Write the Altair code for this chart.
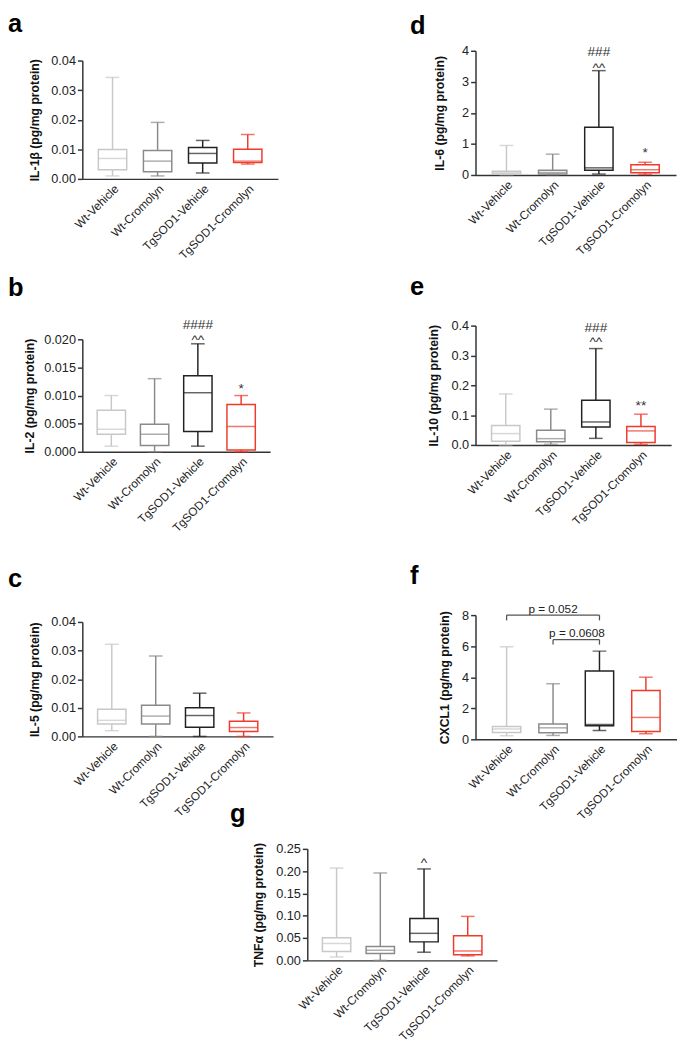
import altair as alt
import pandas as pd

groups = ["Wt-Vehicle", "Wt-Cromolyn", "TgSOD1-Vehicle", "TgSOD1-Cromolyn"]
group_colors = ["#c8c8c8", "#8a8a8a", "#222222", "#ee3b2b"]

# Panel a: IL-1beta
il1b_min = [0.0010, 0.0010, 0.0020, 0.0050]
il1b_q1 = [0.0031, 0.0024, 0.0054, 0.0055]
il1b_med = [0.0069, 0.0060, 0.0086, 0.0060]
il1b_q3 = [0.0099, 0.0096, 0.0106, 0.0100]
il1b_max = [0.0343, 0.0191, 0.0130, 0.0150]

# Panel b: IL-2
il2_min = [0.0010, 0.0000, 0.0010, 0.0000]
il2_q1 = [0.0031, 0.0011, 0.0036, 0.0003]
il2_med = [0.0040, 0.0031, 0.0105, 0.0045]
il2_q3 = [0.0074, 0.0049, 0.0135, 0.0084]
il2_max = [0.0100, 0.0130, 0.0192, 0.0100]
il2_ann_group = ["TgSOD1-Vehicle", "TgSOD1-Vehicle", "TgSOD1-Cromolyn"]
il2_ann_y = [0.0226, 0.0199, 0.0112]
il2_ann_text = ["####", "^^", "*"]

# Panel c: IL-5
il5_min = [0.0020, 0.0000, 0.0000, 0.0000]
il5_q1 = [0.0043, 0.0043, 0.0032, 0.0017]
il5_med = [0.0056, 0.0071, 0.0073, 0.0031]
il5_q3 = [0.0095, 0.0109, 0.0100, 0.0053]
il5_max = [0.0322, 0.0281, 0.0151, 0.0082]

# Panel d: IL-6
il6_min = [0.01, 0.01, 0.03, 0.02]
il6_q1 = [0.03, 0.03, 0.15, 0.07]
il6_med = [0.07, 0.08, 0.23, 0.17]
il6_q3 = [0.12, 0.15, 1.54, 0.33]
il6_max = [0.95, 0.67, 3.36, 0.41]
il6_ann_group = ["TgSOD1-Vehicle", "TgSOD1-Vehicle", "TgSOD1-Cromolyn"]
il6_ann_y = [3.95, 3.45, 0.72]
il6_ann_text = ["###", "^^", "*"]

# Panel e: IL-10
il10_min = [0.000, 0.002, 0.022, 0.002]
il10_q1 = [0.012, 0.011, 0.060, 0.008]
il10_med = [0.038, 0.021, 0.077, 0.047]
il10_q3 = [0.065, 0.049, 0.150, 0.062]
il10_max = [0.171, 0.120, 0.323, 0.103]
il10_ann_group = ["TgSOD1-Vehicle", "TgSOD1-Vehicle", "TgSOD1-Cromolyn"]
il10_ann_y = [0.393, 0.345, 0.130]
il10_ann_text = ["###", "^^", "**"]

# Panel f: CXCL1
cxcl1_min = [0.23, 0.25, 0.57, 0.36]
cxcl1_q1 = [0.44, 0.42, 0.88, 0.50]
cxcl1_med = [0.67, 0.74, 0.95, 1.41]
cxcl1_q3 = [0.82, 0.99, 4.40, 3.14]
cxcl1_max = [5.96, 3.58, 5.68, 4.00]
cxcl1_br_from = ["Wt-Vehicle", "Wt-Cromolyn"]
cxcl1_br_to = ["TgSOD1-Vehicle", "TgSOD1-Vehicle"]
cxcl1_br_y = [8.0, 6.42]
cxcl1_br_drop = [7.66, 6.10]
cxcl1_br_text = ["p = 0.052", "p = 0.0608"]
cxcl1_br_text_y = [8.38, 6.85]

# Panel g: TNF-alpha
tnf_min = [0.0077, 0.0000, 0.0183, 0.0100]
tnf_q1 = [0.0197, 0.0155, 0.0415, 0.0127]
tnf_med = [0.0380, 0.0225, 0.0606, 0.0211]
tnf_q3 = [0.0507, 0.0310, 0.0937, 0.0550]
tnf_max = [0.2070, 0.1960, 0.2050, 0.0986]
tnf_ann_group = ["TgSOD1-Vehicle"]
tnf_ann_y = [0.218]
tnf_ann_text = ["^"]

LABEL_FONT = "Liberation Sans"
AX = "#333333"
XSCALE = alt.Scale(type="point", padding=0.67, domain=groups)


def xch(field, axis=None):
    if axis is None:
        return alt.X(field, sort=groups, scale=XSCALE)
    return alt.X(field, sort=groups, scale=XSCALE, axis=axis)


def panel(letter, ytitle, mins, q1s, meds, q3s, maxs, domain, ticks, fmt,
          w, h, letter_dx, letter_offset, title_pad, ann=None, brackets=None):
    df = pd.DataFrame({"group": groups, "lo": mins, "q1": q1s, "med": meds,
                       "q3": q3s, "hi": maxs})
    xaxis = alt.Axis(title=None, labelAngle=-45, ticks=False,
                     labelFontSize=12, labelFont=LABEL_FONT,
                     labelColor="#222", labelPadding=4,
                     domainColor=AX, domainWidth=1.5)
    yscale = alt.Scale(domain=domain, nice=False, zero=False)
    yaxis = alt.Axis(values=ticks, format=fmt, title=ytitle,
                     titleFontWeight="bold", titleFontSize=12.5,
                     titleFont=LABEL_FONT, titleColor="#111",
                     labelFontSize=13, labelFont=LABEL_FONT, labelColor="#222",
                     labelOverlap=False, labelFlush=False,
                     tickSize=5, tickWidth=1.5, tickColor=AX,
                     domainColor=AX, domainWidth=1.5, labelPadding=2,
                     titlePadding=title_pad, grid=False)

    def ych(field):
        return alt.Y(field, scale=yscale, axis=yaxis)

    cscale = alt.Scale(domain=groups, range=group_colors)
    colr = alt.Color("group:N", scale=cscale, legend=None)
    base = alt.Chart(df).encode(x=xch("group:N", xaxis))
    whisk = base.mark_rule(strokeWidth=1.5).encode(
        y=ych("lo:Q"), y2="hi:Q", color=colr)
    box = base.mark_bar(width=29, fill="white", strokeWidth=1.5).encode(
        y=ych("q1:Q"), y2="q3:Q",
        stroke=alt.Stroke("group:N", scale=cscale, legend=None))
    med = base.mark_tick(size=29, thickness=1.5).encode(y=ych("med:Q"), color=colr)
    caplo = base.mark_tick(size=14, thickness=1.5).encode(y=ych("lo:Q"), color=colr)
    caphi = base.mark_tick(size=14, thickness=1.5).encode(y=ych("hi:Q"), color=colr)
    layers = [whisk, box, med, caplo, caphi]
    if ann is not None:
        adf = pd.DataFrame({"group": ann[0], "y": ann[1], "t": ann[2]})
        layers.append(alt.Chart(adf).mark_text(
            fontSize=14, font=LABEL_FONT, color="#333", baseline="middle").encode(
            x=xch("group:N", xaxis), y=ych("y:Q"), text="t:N"))
    if brackets is not None:
        bdf = pd.DataFrame({"a": brackets[0], "b": brackets[1], "y": brackets[2],
                            "d": brackets[3]})
        bc = "#555555"
        layers.append(alt.Chart(bdf).mark_rule(color=bc, strokeWidth=1.3).encode(
            x=xch("a:N", xaxis), x2="b:N", y=ych("y:Q")))
        layers.append(alt.Chart(bdf).mark_rule(color=bc, strokeWidth=1.3).encode(
            x=xch("a:N", xaxis), y=ych("y:Q"), y2="d:Q"))
        layers.append(alt.Chart(bdf).mark_rule(color=bc, strokeWidth=1.3).encode(
            x=xch("b:N", xaxis), y=ych("y:Q"), y2="d:Q"))
        tdf = pd.DataFrame({"g": ["Wt-Cromolyn", "TgSOD1-Vehicle"],
                            "ty": brackets[5], "t": brackets[4]})
        layers.append(alt.Chart(tdf.iloc[[0]]).mark_text(
            fontSize=12, font=LABEL_FONT, color="#222").encode(
            x=xch("g:N", xaxis), y=ych("ty:Q"), text="t:N"))
        layers.append(alt.Chart(tdf.iloc[[1]]).mark_text(
            fontSize=12, font=LABEL_FONT, color="#222", dx=-23).encode(
            x=xch("g:N", xaxis), y=ych("ty:Q"), text="t:N"))
    return alt.layer(*layers).properties(
        width=w, height=h,
        title=alt.TitleParams(letter, anchor="start", frame="group", dx=letter_dx,
                              offset=letter_offset, fontSize=26, font=LABEL_FONT,
                              fontWeight="bold", color="#000", baseline="bottom"))


def spacer():
    return alt.Chart(pd.DataFrame({"v": [0]})).mark_point(size=1, opacity=0).encode(
        x=alt.X("v:Q", axis=None), y=alt.Y("v:Q", axis=None)
    ).properties(width=1, height=1)


pa = panel("a", "IL-1β (pg/mg protein)", il1b_min, il1b_q1, il1b_med, il1b_q3, il1b_max,
           [0, 0.04], [0, 0.01, 0.02, 0.03, 0.04], ".2f", 200, 121, -76, -8, 9)
pb = panel("b", "IL-2 (pg/mg protein)", il2_min, il2_q1, il2_med, il2_q3, il2_max,
           [0, 0.02], [0, 0.005, 0.01, 0.015, 0.02], ".3f", 192, 115, -76, -9, 7,
           ann=(il2_ann_group, il2_ann_y, il2_ann_text))
pc = panel("c", "IL-5 (pg/mg protein)", il5_min, il5_q1, il5_med, il5_q3, il5_max,
           [0, 0.04], [0, 0.01, 0.02, 0.03, 0.04], ".2f", 195, 117, -76, -1, 9)
pd_ = panel("d", "IL-6 (pg/mg protein)", il6_min, il6_q1, il6_med, il6_q3, il6_max,
            [0, 4], [0, 1, 2, 3, 4], "d", 205, 127, -67, -20, 15,
            ann=(il6_ann_group, il6_ann_y, il6_ann_text))
pe = panel("e", "IL-10 (pg/mg protein)", il10_min, il10_q1, il10_med, il10_q3, il10_max,
           [0, 0.4], [0, 0.1, 0.2, 0.3, 0.4], ".1f", 200, 122, -67, -6, 11,
           ann=(il10_ann_group, il10_ann_y, il10_ann_text))
pf = panel("f", "CXCL1 (pg/mg protein)", cxcl1_min, cxcl1_q1, cxcl1_med, cxcl1_q3, cxcl1_max,
           [0, 8], [0, 2, 4, 6, 8], "d", 206, 127, -67, -11, 10,
           brackets=(cxcl1_br_from, cxcl1_br_to, cxcl1_br_y, cxcl1_br_drop,
                     cxcl1_br_text, cxcl1_br_text_y))
pg = panel("g", "TNFα (pg/mg protein)", tnf_min, tnf_q1, tnf_med, tnf_q3, tnf_max,
           [0, 0.25], [0, 0.05, 0.10, 0.15, 0.20, 0.25], ".2f", 194, 114, -79, -10, 10,
           ann=(tnf_ann_group, tnf_ann_y, tnf_ann_text))

left = alt.vconcat(spacer(),
                   alt.vconcat(pa, alt.vconcat(pb, pc, spacing=33), spacing=15),
                   spacing=-18)
right = alt.vconcat(spacer(),
                    alt.vconcat(pd_, alt.vconcat(pe, pf, spacing=36), spacing=18),
                    spacing=-16)
top = alt.hconcat(left, right, spacing=135)
bottom = alt.hconcat(spacer(), pg, spacing=150)

chart = alt.vconcat(top, bottom, spacing=-21).properties(
    padding={"left": 0, "top": -8, "right": 0, "bottom": 0}
).configure_view(stroke=None).resolve_scale(color="independent")

chart.save("out.html", embed_options={"renderer": "svg", "actions": False})
